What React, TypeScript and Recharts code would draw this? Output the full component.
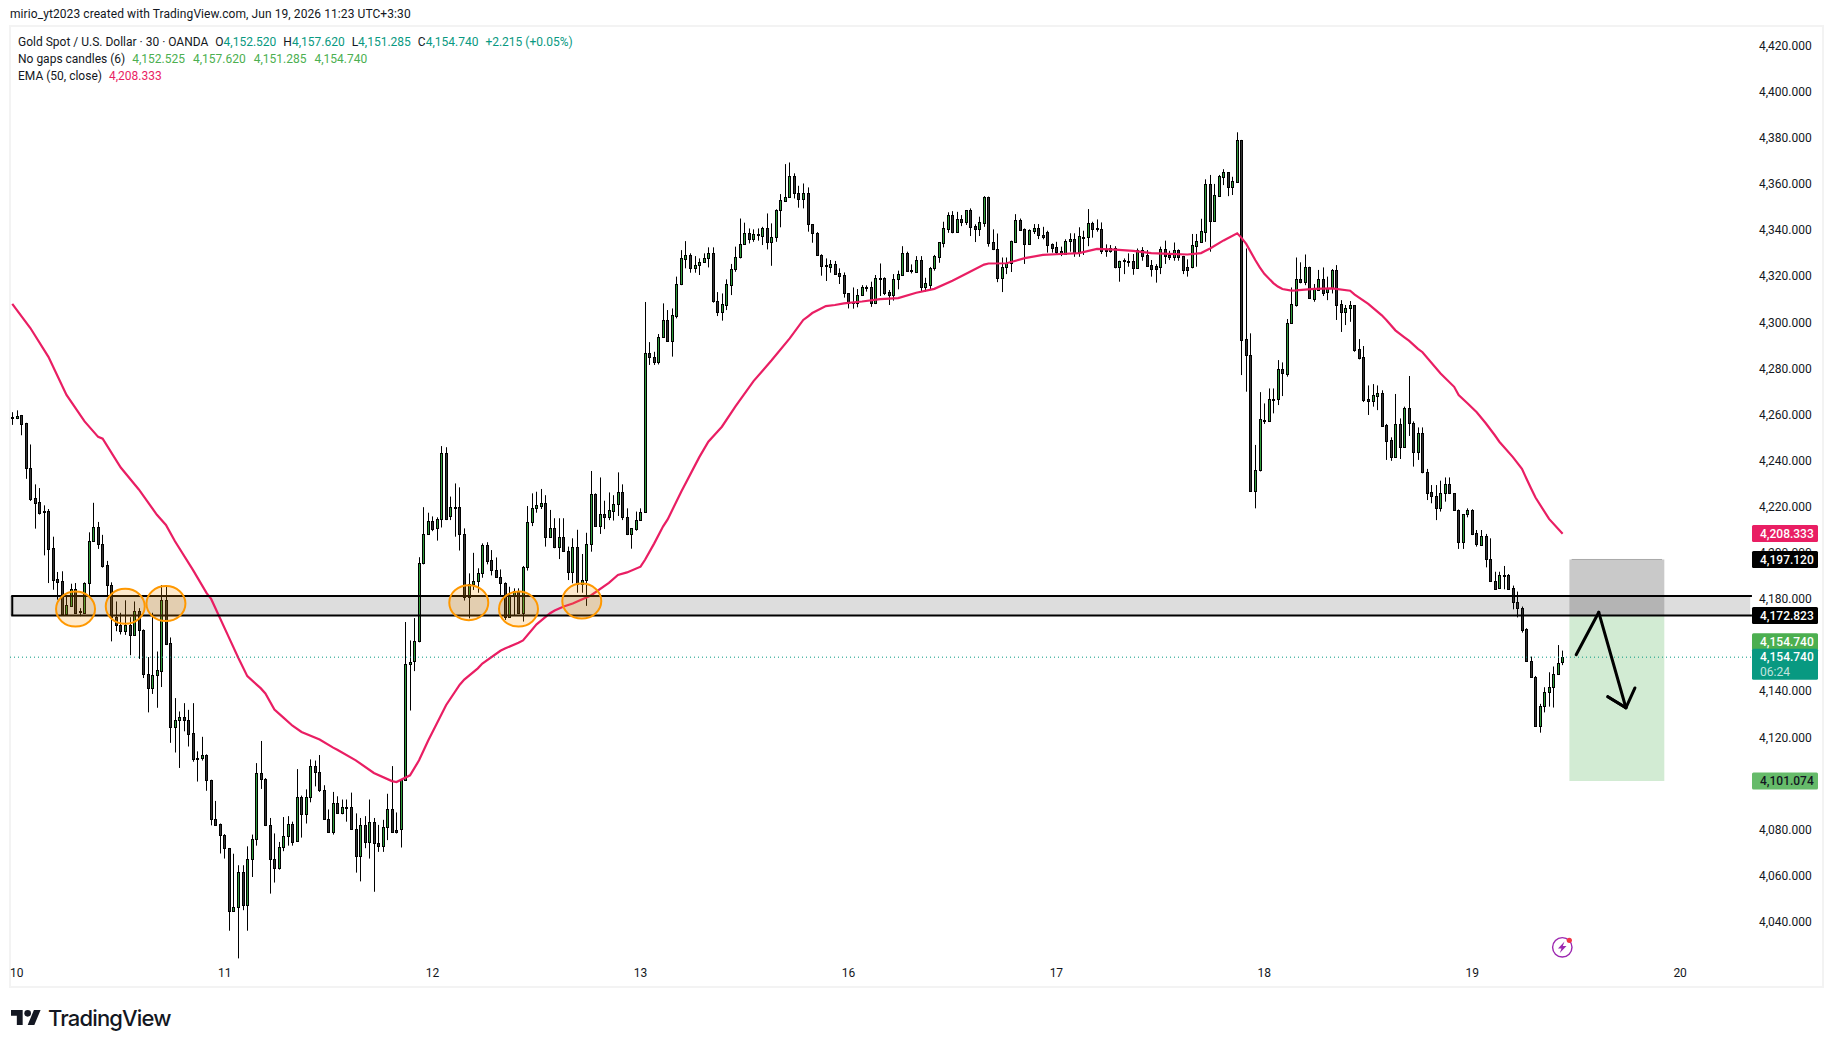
import { Bar, ComposedChart, Line, ReferenceArea, ReferenceDot, ReferenceLine, XAxis, YAxis } from 'recharts'

const opens = [
  4258.8,4258.5,4259.6,4256.4,4237,4223.6,4221.9,4218.2,4218,4202,
  4188.5,4187.7,4173.6,4177,4184.5,4174.9,4174,4186.9,4205,4211.1,
  4203.7,4194.6,4186,4172.3,4168.8,4165.9,4168.8,4164.4,4174.7,4166.4,
  4147.3,4141.2,4146.8,4148.7,4179.5,4160.7,4124.5,4127.4,4128.7,4127.4,
  4121.8,4111.2,4110.8,4112.3,4101.4,4084.4,4082.2,4077.8,4071.9,4044.6,
  4046.2,4061.5,4047.2,4067.4,4075.7,4104.3,4101.9,4081.8,4067.4,4063.1,
  4072.2,4077.3,4082.6,4074.9,4094,4086.6,4094,4107.5,4104.8,4097,
  4084.4,4079.1,4091.5,4087.3,4089.9,4089.9,4080.2,4068.4,4081.8,4074.7,
  4083.1,4074.3,4073,4081.3,4088.7,4079.8,4080.2,4101.4,4151.6,4152.9,
  4161.6,4195.4,4208.2,4213.7,4210.6,4214.5,4243.2,4216,4220,4220,
  4208,4180.7,4186.3,4187.9,4191.1,4203.4,4196.9,4192.4,4189.4,4187,
  4172.3,4181.4,4183.6,4173.8,4194,4213.2,4219.3,4220.5,4221.5,4206.7,
  4210.6,4202.4,4206.7,4200.7,4191.5,4202.7,4186.5,4188,4203.7,4225.4,
  4211.8,4216.7,4215.7,4218.3,4221,4226.2,4215.4,4208,4210.3,4214.2,
  4217.9,4286.5,4285.1,4282.9,4293.5,4301,4292,4302.9,4316.4,4327.6,
  4329,4323.7,4324.7,4326.3,4327.7,4329.9,4309.4,4304.6,4307.5,4316.3,
  4322.9,4328.1,4333.8,4338.6,4336.2,4338.1,4337.5,4340.7,4334.9,4336.8,
  4348.7,4352.7,4354.5,4363.4,4356.2,4353.6,4355.9,4342.5,4338.6,4329.3,
  4324.7,4324.1,4325.1,4321.2,4320.3,4312.5,4308.6,4308.2,4311.7,4315.1,
  4315.1,4308.2,4319.1,4319,4313,4312,4318.6,4320.6,4329.9,4322.7,
  4321.9,4326.8,4315.4,4316,4323.5,4328.4,4334.5,4340.6,4346.4,4339.3,
  4344.6,4343.6,4348.7,4341.7,4340.6,4343.2,4354.2,4334.8,4331.6,4319.3,
  4323.9,4325.5,4335,4344.3,4340.4,4333.9,4339.7,4340.9,4338,4339,
  4333.8,4332.6,4330.9,4329.4,4335.2,4336.3,4330.3,4337.2,4336.8,4342.9,
  4340.7,4340.4,4331.3,4331.1,4332,4324.1,4326.8,4326.5,4326.5,4323.7,
  4331.2,4329,4324.8,4324.4,4324,4331.6,4329.2,4328.3,4331.2,4328.7,
  4324,4324,4333,4335,4339.3,4359.9,4343.9,4354.7,4363.1,4365,
  4358.8,4361,4379,4292.6,4286,4226.7,4235.8,4257.8,4257.3,4266.6,
  4266.6,4279.6,4277.6,4299.9,4307.5,4318.6,4317.5,4323.8,4310.2,4314,
  4318.9,4313,4314.7,4322.7,4307.8,4304.6,4306,4307.3,4288.2,4284.8,
  4266.6,4266,4268.1,4269.2,4255.4,4248.9,4241.7,4255.7,4246,4262.7,
  4256.2,4243.9,4251.8,4235.2,4226.2,4224.8,4219.3,4225.8,4229.7,4225.8,
  4218.6,4204.9,4216.7,4218.6,4208.5,4203.4,4207.3,4197.2,4187.9,4184.6,
  4190.4,4190.4,4184.6,4178.8,4176.1,4166.9,4153.3,4146.3,4125.1,4133.5,
  4139.5,4141.7,4147.3,4152.5,
]

const highs = [
  4261,4261.8,4259.8,4256.4,4247,4229.7,4228.1,4220.6,4219,4207,
  4191.7,4192,4181.3,4186.6,4186.9,4176,4187.2,4208.9,4221.7,4213.4,
  4207.8,4196.5,4187.2,4178.9,4174,4179.4,4172.1,4178.9,4176,4166.8,
  4154.8,4174,4157.2,4186,4186,4163.3,4137,4131.2,4134.8,4131.9,
  4134.8,4113.9,4120.2,4112.6,4101.6,4092.4,4082.6,4078,4072,4069.5,
  4064.5,4064.5,4072.7,4077.8,4108.8,4118.4,4102.3,4085,4078.3,4074.6,
  4085.4,4085.8,4083.4,4106.2,4094.7,4097.4,4110.4,4109.9,4112.3,4099.2,
  4088.7,4096.3,4094.4,4093,4093,4096,4087,4085,4085.8,4093,
  4085,4082,4084.2,4095.5,4107.5,4087.4,4101.9,4170,4162,4171.7,
  4198.1,4219.8,4217.4,4215.8,4215.4,4246.3,4245.8,4224.4,4230.1,4228.4,
  4210.6,4191.1,4200,4193.3,4204.1,4204.6,4201.2,4198,4192.8,4187.2,
  4185.3,4184.6,4184.6,4194.3,4220.3,4225.8,4226.5,4227.7,4225,4218.6,
  4215,4215,4215,4202.7,4206.3,4210,4199.5,4208.7,4235.5,4225.8,
  4232.7,4222.6,4226.2,4225,4234.9,4229.7,4219.3,4210.6,4217.9,4219.3,
  4308.8,4291.4,4287.2,4294.9,4308.2,4305.3,4306,4319.8,4331.3,4335.2,
  4329.9,4328.7,4327.7,4329.9,4332.5,4332.5,4313.1,4312.5,4318.6,4325.3,
  4332.8,4345,4343.2,4340.7,4340.3,4340.7,4341.4,4347.2,4342.9,4349,
  4355.6,4368.6,4369.3,4364.6,4359.2,4360.2,4358.5,4342.6,4339.1,4329.5,
  4327.7,4327,4326.6,4323.4,4321.6,4312.6,4315.1,4314.4,4316.1,4316,
  4317.6,4320.5,4325.5,4319.5,4314,4320.9,4322.4,4333,4330.6,4325.1,
  4328.7,4328.7,4319.3,4324,4329.2,4334.8,4343.6,4347.7,4348.2,4347.9,
  4346.5,4348.7,4349.4,4342.5,4345.8,4354.7,4354.5,4340.3,4338.5,4328.1,
  4328.1,4335.4,4346.9,4345,4340.7,4340.3,4342.6,4342.6,4341.4,4339.7,
  4334.2,4334.9,4332.8,4336,4338.6,4338.6,4341.2,4339.7,4349.1,4343.6,
  4344.6,4343.3,4333.8,4333.5,4333,4326.7,4327.7,4329.9,4329.6,4332,
  4332.6,4331.3,4327,4325.2,4332.8,4335.4,4331,4334.6,4331.6,4328.8,
  4327.3,4338.3,4338.3,4344.9,4362,4363.9,4360,4363.9,4366.4,4365,
  4363.1,4382.4,4379.1,4332,4295.2,4246.8,4269.7,4264.8,4271.3,4271.3,
  4283.6,4282.6,4301.4,4315.1,4328.1,4326,4329.4,4324.1,4316.6,4322.7,
  4323.8,4319.8,4323.1,4324.8,4309.6,4307.5,4309.2,4307.4,4292.7,4289.7,
  4272.6,4273.2,4272.6,4270.5,4255.9,4250.1,4268.9,4258.3,4263.4,4276.7,
  4257,4254.4,4254.4,4236.4,4229.4,4229.4,4231.3,4232.7,4232.7,4225.9,
  4218.8,4216.8,4219.3,4218.9,4209.9,4209.9,4208.2,4206.3,4191.8,4191.8,
  4194.3,4190.8,4185.8,4183.2,4176.7,4167.3,4155,4146.6,4134.5,4141.7,
  4148.2,4150.7,4160,4157.6,
]

const lows = [
  4255.5,4258,4251,4232.1,4222.5,4210.5,4216.6,4198.9,4186.9,4184,
  4179.7,4173.3,4173.3,4176.5,4173.6,4172.5,4173.6,4181.3,4204.9,4201.7,
  4193.6,4181.3,4161.6,4166,4164.6,4164.4,4155.6,4164,4154,4145.7,
  4130.8,4138.8,4132.8,4141.8,4160,4117.6,4113.4,4106.7,4122.6,4116,
  4109.4,4100.8,4109.9,4096.8,4081.8,4081.7,4069.6,4067.4,4036.1,4044.3,
  4024.1,4045,4036.1,4059.4,4073,4097.6,4081.5,4052.2,4057,4062.6,
  4070.6,4073,4073,4074.6,4076.5,4082.6,4091.8,4098.7,4096.3,4084.2,
  4078.9,4077.8,4087,4086.6,4083.4,4079.8,4061.3,4057.5,4071.9,4067.4,
  4053,4070.3,4070.3,4075.4,4078.6,4078.3,4072.2,4101.1,4131.6,4148.7,
  4161.2,4195,4207.8,4209.4,4205.3,4211,4214.2,4214.2,4207,4201,
  4179.3,4171.6,4183.9,4182.7,4189.2,4195,4190.2,4189.1,4181.7,4170.9,
  4172,4172.6,4173.5,4170.2,4192.3,4211.6,4217.4,4219,4202.7,4206.7,
  4202,4197.3,4200.5,4188.2,4186.8,4182.7,4182.7,4177,4200.5,4211.4,
  4208.2,4210.3,4214.2,4214,4216,4214.2,4207.7,4201.8,4209.6,4214,
  4217.6,4281.5,4281.5,4281.7,4293.5,4291.6,4285.1,4301.7,4316.1,4323.4,
  4321.5,4321.5,4320.5,4326,4323.8,4308.5,4302.7,4300.7,4305.3,4311.8,
  4321.9,4327.7,4333.8,4334.2,4334.9,4335.4,4333.5,4331.6,4324.5,4334.9,
  4341.2,4352.6,4354.2,4353.7,4349.7,4349.4,4339.3,4334.5,4328.9,4320.2,
  4317.9,4321.5,4320.5,4316.6,4310.7,4306,4305.9,4306.5,4311.4,4313.3,
  4306.7,4307.9,4311.4,4311.8,4307.5,4309.4,4314.3,4320.5,4321.9,4321.2,
  4321.9,4313.3,4313.3,4314,4322.4,4325.8,4332.5,4338.8,4338.6,4339.3,
  4341.7,4342.2,4337.4,4334.8,4337.4,4341.4,4332.8,4331.3,4317.4,4313.1,
  4320.9,4321.8,4334.8,4339.7,4325.3,4333.9,4338.3,4336.1,4336,4330.2,
  4330.2,4329.6,4328.7,4329.2,4330.6,4328.4,4328.4,4329.2,4333,4336.7,
  4339.3,4329.6,4328.4,4330.2,4323.4,4317.6,4320.9,4324.1,4320.6,4323.4,
  4326.7,4324.1,4319.8,4317.2,4320.9,4325.3,4327,4326.7,4326.7,4320.9,
  4319.8,4323.4,4324.1,4334.5,4334.9,4330.6,4343.6,4354.5,4359.5,4354.7,
  4355.2,4360.7,4277.1,4269.9,4226.7,4219.3,4235.3,4255.9,4257.3,4260.5,
  4264.1,4268,4276.4,4299.8,4306.8,4316.9,4316.1,4310.1,4308.9,4313.7,
  4311.4,4309.6,4312.5,4301,4295.8,4298.8,4300.2,4287.2,4283.9,4265.4,
  4259.8,4263.4,4261.9,4254.7,4240.3,4239.9,4241.3,4240.7,4245.7,4250.7,
  4237.4,4240.3,4234.5,4222.9,4221.5,4214.2,4217.9,4222.2,4225.5,4218.3,
  4201.7,4201.7,4215.4,4207.7,4202.7,4203.1,4193.7,4187.5,4184.2,4184.3,
  4184.2,4183.9,4175.5,4172,4165.4,4152.8,4145.9,4125.1,4122,4130.8,
  4133.3,4132.9,4147,4151.3,
]

const closes = [
  4258.7,4259.5,4256,4237,4223.3,4221.7,4217.4,4218,4201.8,4188.3,
  4187.5,4173.6,4177.3,4184.5,4174,4174.8,4186.9,4205,4211.1,4203.7,
  4194.4,4186,4172.3,4168.8,4165.9,4168.8,4164.4,4174.7,4166.4,4147.3,
  4141.2,4147.1,4149,4179.5,4160.4,4124.5,4127.4,4128.7,4127.4,4121.5,
  4110.5,4111,4112.1,4101.4,4084.4,4082,4077.8,4071.9,4044.6,4046.2,
  4061.5,4047.2,4067.4,4075.7,4104.3,4101.9,4081.8,4067.4,4063.1,4072.5,
  4077.3,4082.6,4074.6,4094,4086.6,4094,4107.5,4105,4097,4084.4,
  4079.1,4091.5,4087.3,4089.9,4089.6,4080.2,4068.4,4081.8,4074.7,4083.1,
  4074.3,4073,4081.3,4088.7,4079.1,4079,4101.4,4151.6,4152.7,4161.6,
  4195.4,4208.2,4213.7,4210.5,4214.5,4243.2,4214.7,4219.7,4219.8,4208,
  4180.7,4186.3,4187.9,4191.1,4203.4,4196.6,4192.4,4189.4,4187,4172.3,
  4181.4,4183.6,4173.8,4194,4213.2,4219.3,4220.6,4221.5,4206.7,4210.6,
  4202.4,4206.7,4200.7,4191.5,4202.7,4186.5,4188,4203.7,4225.4,4211.8,
  4216.7,4215.7,4218.6,4221,4226.2,4215.4,4208,4210.6,4214.2,4217.9,
  4286.5,4285.1,4282.9,4293.5,4301,4291.9,4303.1,4316.4,4327.7,4329,
  4323.7,4324.7,4326.3,4327.7,4329.9,4309.4,4304.6,4307.8,4316.4,4322.9,
  4328.1,4333.8,4338.6,4336.2,4338.1,4338,4340.7,4334.9,4336.8,4348.7,
  4353,4354.5,4363.4,4356.2,4353.6,4355.9,4342.5,4338.6,4329.3,4324.5,
  4324.6,4325.1,4321.1,4320.2,4312.5,4308.2,4308.5,4311.7,4315.1,4315,
  4308.2,4319,4319,4312.5,4312,4318.7,4320.9,4329.9,4322.4,4322.6,
  4326.8,4315.4,4317,4323.5,4328.7,4334.8,4340.7,4346.4,4339.3,4344.6,
  4343.5,4348.7,4341.4,4340.6,4343.3,4354.2,4334.5,4331.6,4319.3,4323.9,
  4325.5,4335.1,4344.3,4340,4333.9,4340,4340.9,4337.8,4337,4333.5,
  4332.3,4330.3,4329.4,4335.2,4336.3,4330.2,4337.4,4337.1,4342.9,4340.6,
  4340.6,4330.9,4331.2,4332,4324.1,4326.4,4326.7,4326.4,4323.7,4331.2,
  4328.9,4324.5,4323.1,4323.2,4331.6,4328.9,4328.3,4331.2,4328.3,4322.7,
  4322.7,4333.3,4335.2,4339.6,4359.9,4344,4355.2,4363.4,4365,4358.8,
  4361.2,4379,4292.3,4286,4226.7,4235.8,4257.9,4257.7,4266.6,4266.5,
  4279.6,4277.8,4299.9,4307.8,4318.6,4317.5,4323.8,4310.4,4314.3,4318.9,
  4312.8,4315,4322.7,4307.5,4304.6,4306,4307.3,4287.9,4284.5,4266.3,
  4265.8,4268.3,4269.2,4255.1,4248.6,4241.7,4255.7,4246,4262.7,4256.2,
  4243.9,4251.8,4235.2,4226.1,4224.8,4219.3,4225.8,4229.7,4225.8,4218.6,
  4204.9,4216.7,4218.6,4208.2,4203.7,4207.3,4197.2,4187.9,4184.3,4190.4,
  4190.3,4184.3,4178.8,4175.9,4166.6,4153.3,4146.3,4125.1,4133.7,4139.5,
  4141.7,4147.3,4152.1,4154.7,
]

const emaEvery4 = [
  4308,4297.5,4285,4268.5,4257,4249.5,4237,4227.5,4216.5,4205,
  4192.5,4180,4163,4146.5,4139,4128.5,4122.3,4119,4114.5,4110,
  4104.5,4101,4103.5,4118.5,4134,4145,4152,4157.5,4161,4169,
  4175,4178,4181.5,4187,4191.5,4197,4211.5,4226.5,4241.5,4252.5,
  4263.5,4274.5,4283.5,4293,4302.5,4307,4308.2,4309,4310,4310.5,
  4312.8,4314.5,4318,4322,4325.5,4325.6,4327.8,4329.2,4329.6,4330,
  4331.8,4331.5,4331,4330,4329.7,4329.4,4331,4335.5,4336.5,4323.8,
  4315.5,4313.8,4314.5,4314.7,4313.7,4308,4301,4293.5,4287,4277.8,
  4268.4,4261,4251,4241.5,4228,4214.7,
]
const emaExtraIdx = [19,34,43,50,55,58,62,71,85,90,99,103,109,113,119,122,134,139,142,145,154,157,166,175,177,182,195,215,263,265,271,273,275,277,279,281,283,297,303,306,309,311,319,322,326,329,334,337,343]
const emaExtraVal = [4250.3,4212.1,4182.5,4154.5,4141.2,4132,4125,4115.5,4100.6,4110,4142.8,4149.9,4158.5,4162,4173.8,4176.7,4190.4,4194,4204,4214.5,4248.2,4254.7,4279,4301,4304,4307.5,4310.4,4325,4330,4332,4338.6,4334,4327,4321,4317,4314.4,4313.7,4312,4303,4296.5,4292,4288.5,4272,4264.8,4256.2,4248.2,4236.4,4224,4208.3]

const slotCount = 385
const priceTicks = [4040,4060,4080,4120,4140,4180,4200,4220,4240,4260,4280,4300,4320,4340,4360,4380,4400,4420]
const dayTicks = [1, 47, 93, 139, 185, 231, 277, 323, 369]
const dayLabels = ['10', '11', '12', '13', '16', '17', '18', '19', '20']

const bandLow = 4172.823
const bandHigh = 4181.3
const stopPrice = 4197.12
const targetPrice = 4101.074
const lastPrice = 4154.74
const emaLast = 4208.333

const circleIdx = [14, 25, 34, 101, 112, 126]
const circlePrice = [4175.6, 4176.8, 4178, 4178.4, 4175.6, 4179.1]

const arrowIdx = [346, 351, 357, 353, 357, 359]
const arrowPrice = [4155.8, 4174.2, 4132.8, 4137.6, 4132.8, 4141.4]

const rows = Array.from({ length: slotCount }, (_, i) => {
  const extra = emaExtraIdx.indexOf(i)
  return {
    idx: i,
    open: i < opens.length ? opens[i] : null,
    close: i < opens.length ? closes[i] : null,
    high: i < opens.length ? highs[i] : null,
    low: i < opens.length ? lows[i] : null,
    range: i < opens.length ? [lows[i], highs[i]] : null,
    ema: extra >= 0 ? emaExtraVal[extra] : (i % 4 === 0 && i / 4 < emaEvery4.length ? emaEvery4[i / 4] : null),
  }
})

const FONT = 'Roboto, sans-serif'
const TEXT = '#131722'
const TEAL = '#089981'
const GREEN = '#4CAF50'
const PINK = '#E91E63'

const fmtPrice = (v: number) => v.toLocaleString('en-US', { minimumFractionDigits: 3, maximumFractionDigits: 3 })

function Candle(props: any) {
  const { x, y, width, height, payload } = props
  if (payload.open == null || !height) return null
  const k = height / (payload.high - payload.low)
  const yOf = (v: number) => y + (payload.high - v) * k
  const c = Math.floor(x + width / 2)
  const up = payload.close >= payload.open
  const top = Math.round(yOf(Math.max(payload.open, payload.close)))
  const bottom = Math.round(yOf(Math.min(payload.open, payload.close)))
  return (
    <g>
      <rect x={c} y={y} width={1} height={height} fill="#000" />
      <rect
        x={c - 0.5}
        y={top + 0.5}
        width={2}
        height={Math.max(bottom - top, 1)}
        fill={up ? '#2E9B3A' : '#333333'}
        stroke="#000"
        strokeWidth={1}
      />
    </g>
  )
}

function PriceTag({ cy, label, bg, color = '#fff', shift = 0, h = 17, sub }: any) {
  return (
    <g>
      <rect x={1752} y={cy - 8.5 + shift} width={66} height={h} rx={1.5} fill={bg} />
      <text x={1760} y={cy + 4.3 + shift} fontSize={12} fontFamily={FONT} fill={color} fontWeight={500}>{label}</text>
      {sub && <text x={1760} y={cy + 18.6 + shift} fontSize={12} fontFamily={FONT} fill="#fff" fillOpacity={0.75}>{sub}</text>}
    </g>
  )
}

function Header() {
  const piece = (t: string, c: string, gap = 0) => <span style={{ color: c, marginLeft: gap }}>{t}</span>
  const line = { position: 'absolute', left: 18, fontSize: 12, lineHeight: '17px', whiteSpace: 'pre', fontFamily: FONT, color: TEXT } as const
  return (
    <>
      <div style={{ ...line, left: 10, top: 6, letterSpacing: 0.08 }}>mirio_yt2023 created with TradingView.com, Jun 19, 2026 11:23 UTC+3:30</div>
      <div style={{ ...line, top: 34 }}>
        Gold Spot / U.S. Dollar · 30 · OANDA
        {piece('O', TEXT, 7)}{piece('4,152.520', TEAL)}
        {piece('H', TEXT, 7)}{piece('4,157.620', TEAL)}
        {piece('L', TEXT, 7)}{piece('4,151.285', TEAL)}
        {piece('C', TEXT, 7)}{piece('4,154.740', TEAL)}
        {piece('+2.215 (+0.05%)', TEAL, 7)}
      </div>
      <div style={{ ...line, top: 51 }}>
        No gaps candles (6)
        {piece('4,152.525', GREEN, 7)}{piece('4,157.620', GREEN, 8)}{piece('4,151.285', GREEN, 8)}{piece('4,154.740', GREEN, 8)}
      </div>
      <div style={{ ...line, top: 68 }}>
        EMA (50, close)
        {piece('4,208.333', PINK, 7)}
      </div>
    </>
  )
}

export default function App() {
  return (
    <div style={{ position: 'absolute', left: 0, top: 0, width: 1833, height: 1048, background: '#fff', overflow: 'hidden' }}>
      <div style={{ position: 'absolute', left: 9, top: 25, width: 1811, height: 959, border: '2px solid #f3f3f3' }} />
      <div style={{ position: 'absolute', left: 0, top: 0 }}>
        <ComposedChart
          width={1833}
          height={1048}
          data={rows}
          barCategoryGap={0}
          margin={{ top: 26, right: 10, bottom: 61, left: 9 }}
        >
          <XAxis
            dataKey="idx"
            ticks={dayTicks}
            interval={0}
            padding={{ left: 1, right: 0.8 }}
            tickFormatter={(v: number) => dayLabels[dayTicks.indexOf(v)]}
            axisLine={false}
            tickLine={false}
            height={27}
            tickMargin={2}
            tick={{ fontSize: 12, fill: TEXT, fontFamily: FONT }}
          />
          <YAxis
            orientation="right"
            domain={[4023.4, 4428.5]}
            ticks={priceTicks}
            allowDataOverflow
            interval={0}
            width={72}
            axisLine={false}
            tickLine={false}
            tickMargin={2}
            tickFormatter={fmtPrice}
            tick={{ fontSize: 12, fill: TEXT, fontFamily: FONT }}
          />

          <Bar dataKey="range" isAnimationActive={false} shape={(p: any) => <Candle {...p} />} />
          <Line dataKey="ema" stroke={PINK} strokeWidth={2.2} dot={false} connectNulls isAnimationActive={false} />

          <ReferenceLine y={lastPrice} stroke={TEAL} strokeDasharray="1 3" />

          {/* support zone */}
          <ReferenceArea x1={0} y1={bandLow} y2={bandHigh} fill="#787878" fillOpacity={0.25} stroke="none" ifOverflow="visible" />
          {[bandLow, bandHigh].map(lv => (
            <ReferenceLine
              key={lv}
              segment={[{ x: 0, y: lv }, { x: 384, y: lv }]}
              shape={(p: any) => <line x1={p.x1} y1={p.y1} x2={p.x2 + 3} y2={p.y2} stroke="#000" strokeWidth={2} strokeLinecap="square" />}
            />
          ))}
          <ReferenceLine segment={[{ x: 0, y: bandLow }, { x: 0, y: bandHigh }]} stroke="#000" strokeWidth={2} />

          {/* short position box */}
          <ReferenceArea x1={345} x2={365} y1={bandLow} y2={stopPrice} fill="#787878" fillOpacity={0.4} stroke="none" />
          <ReferenceArea x1={345} x2={365} y1={targetPrice} y2={bandLow} fill={GREEN} fillOpacity={0.25} stroke="none" />
          <ReferenceLine segment={[{ x: 345, y: stopPrice }, { x: 365, y: stopPrice }]} stroke="#a8a8a8" />

          {/* hand drawn arrow */}
          {arrowIdx.slice(1).map((a, i) => (
            <ReferenceLine
              key={i}
              segment={[{ x: arrowIdx[i], y: arrowPrice[i] }, { x: a, y: arrowPrice[i + 1] }]}
              stroke="#000"
              strokeWidth={3}
              strokeLinecap="round"
            />
          ))}

          {circleIdx.map((c, i) => (
            <ReferenceDot
              key={c}
              x={c}
              y={circlePrice[i]}
              shape={(p: any) => (
                <ellipse cx={p.cx} cy={p.cy} rx={19.5} ry={17.5} fill="#FF9800" fillOpacity={0.2} stroke="#FF9800" strokeWidth={2} />
              )}
            />
          ))}

          <ReferenceDot zIndex={3000} x={384} y={emaLast} ifOverflow="visible" shape={(p: any) => <PriceTag cy={p.cy} label={fmtPrice(emaLast)} bg={PINK} />} />
          <ReferenceDot zIndex={3000} x={384} y={stopPrice} ifOverflow="visible" shape={(p: any) => <PriceTag cy={p.cy} label={fmtPrice(stopPrice)} bg="#000" />} />
          <ReferenceDot zIndex={3000} x={384} y={bandLow} ifOverflow="visible" shape={(p: any) => <PriceTag cy={p.cy} label={fmtPrice(bandLow)} bg="#000" />} />
          <ReferenceDot zIndex={3000} x={384} y={lastPrice} ifOverflow="visible" shape={(p: any) => <PriceTag cy={p.cy} label={fmtPrice(lastPrice)} bg={GREEN} shift={-15.5} />} />
          <ReferenceDot zIndex={3000} x={384} y={lastPrice} ifOverflow="visible" shape={(p: any) => <PriceTag cy={p.cy} label={fmtPrice(lastPrice)} bg={TEAL} h={31} sub="06:24" />} />
          <ReferenceDot zIndex={3000} x={384} y={targetPrice} ifOverflow="visible" shape={(p: any) => <PriceTag cy={p.cy} label={fmtPrice(targetPrice)} bg="#66BB6A" color={TEXT} />} />
        </ComposedChart>
      </div>
      <Header />
      <svg style={{ position: 'absolute', left: 1550, top: 935 }} width={26} height={24}>
        <circle cx={12.3} cy={12.3} r={9.7} fill="none" stroke="#9C27B0" strokeWidth={1.4} />
        <path d="M14.5 6.5 L8 13.5 H11.5 L9.8 18 L16.5 11 H12.8 Z" fill="#9C27B0" />
        <circle cx={19.3} cy={5.3} r={2.6} fill="#F23645" />
      </svg>
      <svg style={{ position: 'absolute', left: 11, top: 1010 }} width={30} height={15} viewBox="0 4 36 18">
        <path d="M14 22H7V11H0V4h14v18zM28 22h-8l7.5-18h8L28 22z" fill="#131722" />
        <circle cx={20} cy={8} r={4} fill="#131722" />
      </svg>
      <div style={{ position: 'absolute', left: 48, top: 1004, fontSize: 22, lineHeight: '28px', fontWeight: 500, fontFamily: 'Inter, sans-serif', letterSpacing: -0.85, color: TEXT }}>
        TradingView
      </div>
    </div>
  )
}
